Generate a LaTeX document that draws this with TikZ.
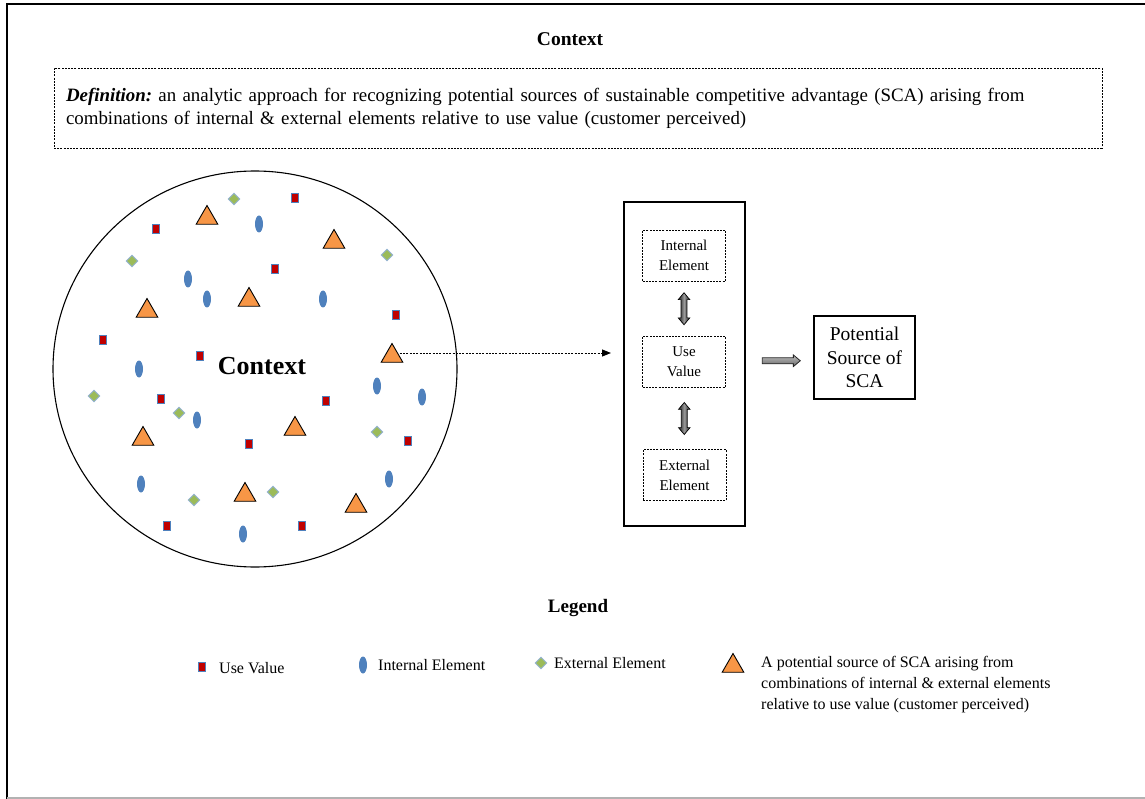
\documentclass[tikz,border=0pt]{standalone}
\usepackage{fontspec}
\setmainfont{Liberation Serif}
\usetikzlibrary{shapes.geometric,shapes.arrows,arrows.meta,calc}
\frenchspacing

\definecolor{uvred}{RGB}{192,0,0}
\definecolor{uvedge}{RGB}{79,129,189}
\definecolor{ieblue}{RGB}{79,129,189}
\definecolor{eegreen}{RGB}{155,187,89}
\definecolor{eeedge}{RGB}{149,179,215}
\definecolor{scaorange}{RGB}{247,150,70}

\tikzset{
  uvmark/.style={rectangle, fill=uvred, draw=uvedge, line width=0.9pt,
    minimum width=6.5pt, minimum height=9.5pt, inner sep=0pt},
  iemark/.style={ellipse, fill=ieblue, minimum width=8pt, minimum height=17pt, inner sep=0pt},
  eemark/.style={diamond, fill=eegreen, draw=eeedge, line width=0.9pt,
    minimum width=12pt, minimum height=12pt, inner sep=0pt},
  scamark/.style={regular polygon, regular polygon sides=3, fill=scaorange, draw=black,
    line width=0.9pt, minimum size=25pt, inner sep=0pt},
  elembox/.style={draw, dashed, dash pattern=on 2pt off 1.2pt, line width=0.8pt,
    minimum width=83pt, minimum height=51pt, align=center, inner sep=2pt,
    font=\fontsize{15}{20}\selectfont},
  linkarrow/.style={double arrow, rotate=90, minimum height=32pt,
    inner xsep=0pt, inner ysep=2.6pt, double arrow head extend=2.8pt,
    double arrow tip angle=80, draw=black, line width=0.7pt,
    left color=black!90, right color=black!90, middle color=black!40},
  leadarrow/.style={single arrow, minimum height=38pt,
    inner xsep=0pt, inner ysep=2.6pt, single arrow head extend=2.8pt,
    single arrow tip angle=80, draw=black!85, line width=0.8pt,
    top color=black!25, bottom color=black!60},
  probe/.style={dash pattern=on 2pt off 1.3pt, line width=1pt,
    -{Triangle[length=9pt,width=7pt]}},
  legtext/.style={anchor=west, inner sep=0pt, font=\fontsize{16}{21}\selectfont, align=left},
}

\begin{document}
\begin{tikzpicture}[x=1pt,y=-1pt]
\useasboundingbox (0,0) rectangle (1145,799);

% page frame
\draw[line width=2.5pt] (7,799) -- (7,4) -- (1145,4);
\draw[black!30, line width=1.5pt] (7,798) -- (1145,798);

% heading and definition
\node[font=\fontsize{19.5}{23}\selectfont\bfseries] (title) at (570,39) {Context};
\node[draw, dashed, dash pattern=on 2pt off 1.2pt, line width=0.8pt,
      minimum width=1048pt, minimum height=80pt, inner xsep=12pt,
      text width=1024pt, align=left, font=\fontsize{18.9}{23}\selectfont]
  (defbox) at (578,108)
  {{\bfseries\itshape Definition:} an analytic approach for recognizing potential sources of sustainable competitive advantage (SCA) arising from\\
   combinations of internal \& external elements relative to use value (customer perceived)};

% context circle
\node[draw, ellipse, line width=1.1pt, minimum width=404pt, minimum height=396pt] (ctx) at (255,369) {};
\node[font=\fontsize{26}{30}\selectfont\bfseries] (ctxlabel) at (262,366) {Context};

% use value marks
\foreach \x/\y [count=\i] in {295/198,156/229,275/269,396/315,103/340,200/356,
    161/399,326/401,249/444,408/441,167/526,302/526}
  \node[uvmark] (uv\i) at (\x,\y) {};

% external element marks
\foreach \x/\y [count=\i] in {234/199,132/261,387/255,94/396,179/413,377/432,194/500,273/492}
  \node[eemark] (ee\i) at (\x,\y) {};

% internal element marks
\foreach \x/\y [count=\i] in {259/224,188/279,207/299,323/299,139/369,377/386,
    422/397,197/420,141/484,389/479,243/534}
  \node[iemark] (ie\i) at (\x,\y) {};

% potential sources of SCA
\foreach \x/\y [count=\i] in {207/215,334/239,147/308,249/297,392/353,295/426,
    143/436,245/492,356/503}
  \node[scamark] (t\i) at (\x,\y+3) {};

% combination panel
\node[draw, line width=1.1pt, minimum width=121pt, minimum height=324pt] (panel) at (684.5,364) {};
\node[elembox] (inner) at (684,255.5) {Internal\\Element};
\node[elembox] (usev) at (684,362) {Use\\Value};
\node[elembox] (outer) at (684.5,475) {External\\Element};
\node[linkarrow] (link1) at ($(inner.south)!0.5!(usev.north)$) {};
\node[linkarrow] (link2) at ($(usev.south)!0.5!(outer.north)$) {};

% result
\node[draw, line width=1.1pt, minimum width=101pt, minimum height=83pt, align=center,
      font=\fontsize{19.5}{23.5}\selectfont] (psca) at (864.5,357.5) {Potential\\Source of\\SCA};
\node[leadarrow] (lead) at ($(panel.east)!0.5!(psca.west)$) {};

% probe from one triangle to the panel
\coordinate (probeend) at (611,353);
\draw[probe] ([yshift=3pt]t5.east) -- (probeend);

% legend
\node[font=\fontsize{19}{22}\selectfont\bfseries] (legend) at (578,608) {Legend};
\node[uvmark] (leguv) at (202,667) {};
\node[legtext] (leguvt) at (219,668) {Use Value};
\node[iemark] (legie) at (363,665) {};
\node[legtext] (legiet) at (378,665) {Internal Element};
\node[eemark] (legee) at (541,663) {};
\node[legtext] (legeet) at (554,663) {External Element};
\node[scamark] (legsca) at (733,666) {};
\node[legtext, anchor=north west] (legscat) at (761,656)
  {A potential source of SCA arising from\\combinations of internal \& external elements\\relative to use value (customer perceived)};
\end{tikzpicture}
\end{document}
